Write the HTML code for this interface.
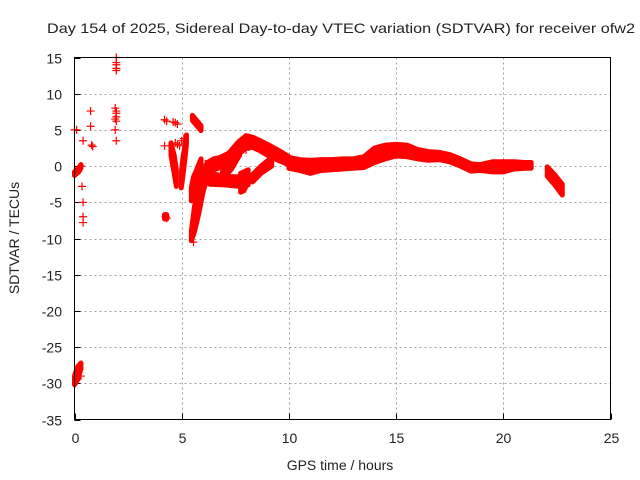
<!DOCTYPE html>
<html><head><meta charset="utf-8"><style>
html,body{margin:0;padding:0;background:#fff}
svg{display:block;font-family:"Liberation Sans",sans-serif}
</style></head><body>
<svg id="chart" width="640" height="480" xmlns="http://www.w3.org/2000/svg">
<rect width="640" height="480" fill="#fff"/>
<text x="47" y="33" font-size="14" fill="#222" textLength="588" lengthAdjust="spacingAndGlyphs">Day 154 of 2025, Sidereal Day-to-day VTEC variation (SDTVAR) for receiver ofw2</text>
<g id="grid"></g>
<g id="ticks"></g>
<g id="marks"></g>
<rect x="74.5" y="57.5" width="536" height="362" fill="none" stroke="#000" stroke-width="1"/>
<text x="340" y="470" font-size="14" fill="#222" text-anchor="middle">GPS time / hours</text>
<text transform="translate(19,238) rotate(-90)" font-size="14" fill="#222" text-anchor="middle">SDTVAR / TECUs</text>
</svg>
<script>
const xTicks = [0,5,10,15,20,25];
const yTicks = [15,10,5,0,-5,-10,-15,-20,-25,-30,-35];
// scatter points (hours, TECU)
const ptHours = [0.0,0.1,0.35,0.4,0.4,0.4,0.4,0.75,0.75,0.8,0.85,0.3,0.3,
  1.95,1.95,1.95,1.95,1.95,1.9,1.95,1.95,1.95,1.9,1.95,1.9,1.95,
  4.2,4.3,4.25,4.3,4.2,4.6,4.7,4.8,4.7,4.8,4.9,5.0,5.1,7.7,8.0,5.55,6.3,6.1];
const ptValues = [5,5,-2.8,-5,-7,-7.8,3.5,7.6,5.5,2.9,2.7,0,-29,
  15,14.3,14,13.5,13.2,8,7.6,7.3,6.8,6.5,6.2,5,3.5,
  6.4,6.2,-7,-7.2,2.8,6.1,6,5.8,3.2,3,2.8,3.5,3.8,1.8,2.2,-10.5,-2,0.3];
// bands (hours, low, high)
const bandHours = [
 [10.0,10.5,11.0,11.5,12.0,12.5,13.0,13.5,14.0,14.5,15.0,15.5,16.0,16.5,17.0,17.5,18.0,18.5,18.9,19.5,20.0,20.5,21.0,21.3],
 [22.05,22.4,22.75],
 [5.45,5.6,5.8,6.0,6.2,6.5,6.8,7.2,7.6,8.0,8.3,8.6,9.0,9.5,10.0],
 [5.45,5.55,5.7,5.9],
 [6.3,7.0,7.7,8.1],
 [7.75,7.9,8.05],
 [6.9,7.3,7.7],
 [8.3,8.7,9.2],
 [4.5,4.65,4.75],
 [4.98,5.05,5.15,5.22],
 [5.5,5.7,5.9],
 [0.0,0.2,0.3],
 [0.0,0.15,0.3],
 [4.2,4.3]
];
const bandLow = [
 [-0.3,-0.6,-1.0,-0.6,-0.5,-0.4,-0.3,-0.2,0.5,1.0,1.4,1.3,1.0,0.8,0.9,0.6,0.0,-0.7,-0.6,-0.8,-0.8,-0.4,-0.3,-0.3],
 [-1.4,-2.6,-4.0],
 [-10.3,-9,-6.5,-3.5,-1.5,-0.5,-0.2,0.2,1.5,2.5,2.6,2.2,1.5,0.8,0.2],
 [-4.8,-3.2,-2,-0.5],
 [-2.5,-2.6,-2.8,-2.6],
 [-3.6,-3.4,-2.5],
 [-1.8,-0.5,1.5],
 [-2.2,-1,0],
 [1.5,-1,-2.8],
 [-3,-1.5,1.0,3],
 [6.3,5.6,4.9],
 [-1.3,-0.8,-0.3],
 [-30.2,-29.5,-28],
 [-7.3,-7.3]
];
const bandHigh = [
 [1.2,0.9,0.8,0.9,0.9,1.0,1.0,1.3,2.5,2.9,3.0,2.9,2.3,2.0,1.9,1.6,1.0,0.3,0.2,0.6,0.6,0.6,0.5,0.5],
 [-0.1,-1.2,-2.5],
 [-9,-5.5,-3,-1,0.5,1,1.2,1.8,3.2,4.2,4,3.6,3,2.2,1.3],
 [-3,-1.5,-0.5,1.0],
 [-1.0,-1.4,-1.5,-0.5],
 [-1,-0.8,-0.6],
 [-0.8,1,3.5],
 [-1.2,0,1.2],
 [3.2,1.5,-0.5],
 [-1,1.0,2.8,4.3],
 [7,6.3,5.6],
 [-0.8,-0.2,0.2],
 [-29,-27.7,-27.2],
 [-6.7,-6.7]
];
const X0=74.5,X1=610.5,Y0=57.5,Y1=419.5;
const xs = h => X0 + (h-0)/(25-0)*(X1-X0);
const ys = v => Y0 + (15-v)/(15-(-35))*(Y1-Y0);
const NS="http://www.w3.org/2000/svg";
const grid=document.getElementById('grid'), ticks=document.getElementById('ticks'), marks=document.getElementById('marks');
function mk(tag,attrs,parent){const e=document.createElementNS(NS,tag);for(const k in attrs)e.setAttribute(k,attrs[k]);parent.appendChild(e);return e;}
xTicks.forEach(t=>{
  const x=Math.round(xs(t))+0.5;
  if(t>0&&t<25){const g=mk('line',{x1:x,x2:x,y1:Y0,y2:Y1,stroke:'#a0a0a0','stroke-dasharray':'2,3'},grid);
  
  }
  const tl=mk('line',{x1:x,x2:x,y1:Y1,y2:Y1-6,stroke:'#000'},ticks);
  
  
  const tx=mk('text',{x:x,y:443,'font-size':14,fill:'#222','text-anchor':'middle'},ticks);
  tx.textContent=t;
  
  
});
yTicks.forEach(t=>{
  const y=Math.round(ys(t))+0.5;
  if(t<15&&t>-35){const g=mk('line',{x1:X0,x2:X1,y1:y,y2:y,stroke:'#a0a0a0','stroke-dasharray':'2,3'},grid);
  
  }
  const tl=mk('line',{x1:X0,x2:X0+6,y1:y,y2:y,stroke:'#000'},ticks);
  
  
  const tx=mk('text',{x:62,y:y+5,'font-size':14,fill:'#222','text-anchor':'end'},ticks);
  tx.textContent=t;
  
  
});
bandHours.forEach((hs,i)=>{
  const lo=bandLow[i], hi=bandHigh[i];
  const pts=[];
  hs.forEach((h,j)=>pts.push(xs(h)+','+ys(hi[j])));
  for(let j=hs.length-1;j>=0;j--)pts.push(xs(hs[j])+','+ys(lo[j]));
  const p=mk('polygon',{points:pts.join(' '),fill:'#ff0000',stroke:'#ff0000','stroke-width':5,'stroke-linejoin':'round'},marks);
  
  
});
ptHours.forEach((h,i)=>{
  const x=xs(h), y=ys(ptValues[i]);
  const p=mk('path',{d:`M${x-4},${y}H${x+4}M${x},${y-4}V${y+4}`,stroke:'#ff0000','stroke-width':1.2,fill:'none'},marks);
  
  
});
</script>
</body></html>
